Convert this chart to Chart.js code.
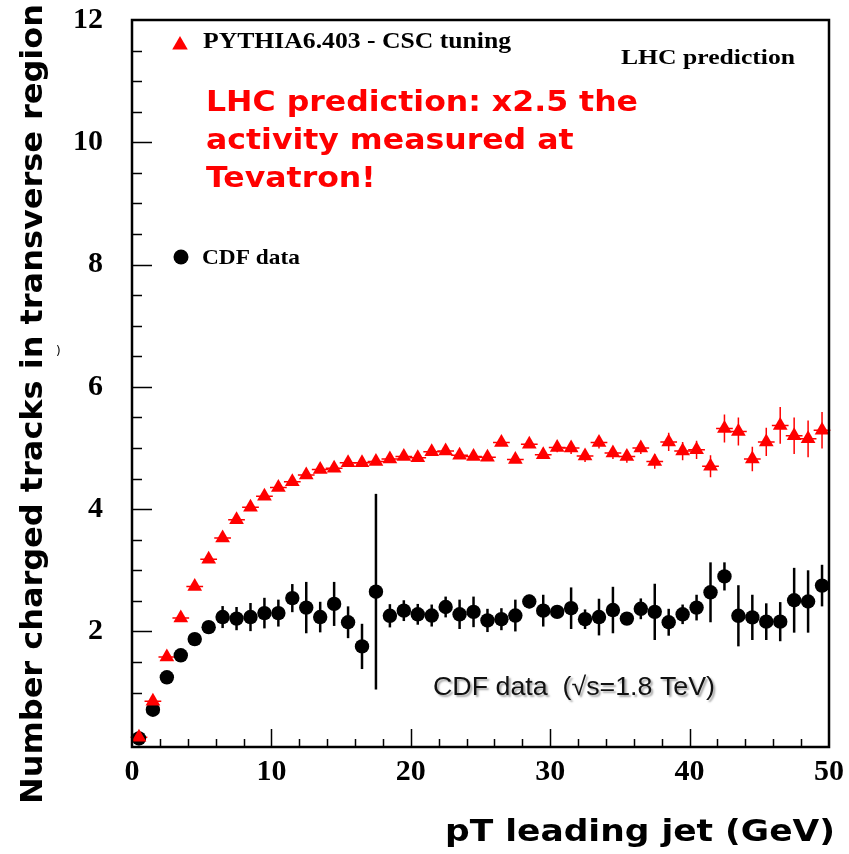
<!DOCTYPE html>
<html><head><meta charset="utf-8">
<script src="https://cdn.jsdelivr.net/npm/chart.js@4.4.1/dist/chart.umd.min.js"></script>
<style>html,body{margin:0;padding:0;background:#fff}canvas{display:block}</style>
</head><body>
<canvas id="c" width="849" height="854"></canvas>
<script>
// ---- data ----
const ptBins = [0.5,1.5,2.5,3.5,4.5,5.5,6.5,7.5,8.5,9.5,10.5,11.5,12.5,13.5,14.5,15.5,16.5,17.5,18.5,19.5,
  20.5,21.5,22.5,23.5,24.5,25.5,26.5,27.5,28.5,29.5,30.5,31.5,32.5,33.5,34.5,35.5,36.5,37.5,38.5,39.5,
  40.5,41.5,42.5,43.5,44.5,45.5,46.5,47.5,48.5,49.5];
const pythiaMean = [0.27,0.86,1.58,2.22,2.735,3.18,3.53,3.825,4.03,4.21,4.355,4.45,4.56,4.65,4.67,4.76,4.76,4.78,4.82,4.86,
  4.84,4.94,4.95,4.88,4.86,4.85,5.09,4.81,5.06,4.89,5.01,5.00,4.87,5.09,4.92,4.86,5.00,4.78,5.10,4.95,
  4.97,4.70,5.32,5.27,4.82,5.10,5.37,5.20,5.15,5.29];
const pythiaErr = [0.02,0.02,0.02,0.02,0.02,0.03,0.03,0.03,0.03,0.03,0.03,0.03,0.03,0.03,0.03,0.03,0.03,0.03,0.03,0.03,
  0.03,0.05,0.05,0.05,0.05,0.05,0.05,0.05,0.05,0.05,0.08,0.10,0.10,0.10,0.10,0.10,0.10,0.12,0.15,0.15,
  0.15,0.18,0.23,0.23,0.20,0.23,0.30,0.30,0.30,0.30];
const cdfMean = [0.25,0.72,1.25,1.61,1.875,2.07,2.235,2.21,2.235,2.30,2.30,2.545,2.39,2.235,2.45,2.15,1.755,2.65,2.256,2.34,
  2.28,2.26,2.40,2.28,2.32,2.18,2.20,2.26,2.49,2.34,2.32,2.38,2.20,2.235,2.35,2.21,2.37,2.32,2.15,2.28,
  2.39,2.64,2.90,2.256,2.23,2.16,2.16,2.51,2.49,2.75];
const cdfErr = [0.05,0.05,0.06,0.06,0.08,0.10,0.18,0.19,0.23,0.25,0.22,0.23,0.42,0.25,0.36,0.26,0.37,1.60,0.19,0.17,
  0.17,0.18,0.17,0.24,0.25,0.19,0.18,0.26,0.11,0.26,0.08,0.34,0.16,0.30,0.38,0.08,0.17,0.46,0.22,0.16,
  0.21,0.49,0.23,0.50,0.37,0.30,0.32,0.53,0.51,0.34];
const xTickLabels = [0,10,20,30,40,50];
const yTickLabels = [2,4,6,8,10,12];
const pythiaLabel = 'PYTHIA6.403 - CSC tuning';
const cdfLabel = 'CDF data';
const xTitle = 'pT leading jet (GeV)';
const yTitle = 'Number charged tracks in transverse region';
const noteLines = ['LHC prediction: x2.5 the', 'activity measured at', 'Tevatron!'];
const cornerNote = 'LHC prediction';
const cdfNote = 'CDF data  (\u221As=1.8 TeV)';

const RED = '#ff0000';

function fitText(ctx, text, x, y, font, width, color) {
  ctx.save();
  ctx.font = font;
  ctx.fillStyle = color;
  ctx.textAlign = 'left';
  ctx.textBaseline = 'alphabetic';
  const w = ctx.measureText(text).width;
  ctx.translate(x, y);
  ctx.scale(width / w, 1);
  ctx.fillText(text, 0, 0);
  ctx.restore();
}

const errPlugin = {
  id: 'errbars',
  beforeDatasetsDraw(chart) {
    const {ctx, scales: {x, y}} = chart;
    ctx.save();
    ctx.strokeStyle = RED; ctx.lineWidth = 1.5;
    ptBins.forEach((b, i) => {
      const px = x.getPixelForValue(b), py = y.getPixelForValue(pythiaMean[i]);
      ctx.beginPath();
      ctx.moveTo(px, y.getPixelForValue(pythiaMean[i] - pythiaErr[i]));
      ctx.lineTo(px, y.getPixelForValue(pythiaMean[i] + pythiaErr[i]));
      ctx.moveTo(x.getPixelForValue(b - 0.6), py);
      ctx.lineTo(x.getPixelForValue(b + 0.6), py);
      ctx.stroke();
    });
    ctx.strokeStyle = '#000'; ctx.lineWidth = 2.5;
    ptBins.forEach((b, i) => {
      const px = x.getPixelForValue(b);
      ctx.beginPath();
      ctx.moveTo(px, y.getPixelForValue(cdfMean[i] - cdfErr[i]));
      ctx.lineTo(px, y.getPixelForValue(cdfMean[i] + cdfErr[i]));
      ctx.stroke();
    });
    ctx.restore();
  }
};

const framePlugin = {
  id: 'frame',
  afterDraw(chart) {
    const {ctx, chartArea: a, scales: {x, y}} = chart;
    ctx.save();
    ctx.strokeStyle = '#000';
    ctx.lineWidth = 2.5;
    ctx.strokeRect(a.left, a.top, a.right - a.left, a.bottom - a.top);
    ctx.lineWidth = 1.5;
    ctx.beginPath();
    y.ticks.forEach(t => {
      const v = t.value;
      if (Math.abs(v * 2 - Math.round(v * 2)) > 1e-6 || v >= y.max) return;
      const len = yTickLabels.includes(v) ? 20 : 10;
      const py = Math.round(y.getPixelForValue(v)) + 0.5;
      ctx.moveTo(a.left, py); ctx.lineTo(a.left + len, py);
    });
    x.ticks.forEach(t => {
      const v = t.value;
      if (v <= x.min || v >= x.max) return;
      const len = xTickLabels.includes(v) ? 18 : 8;
      const px = Math.round(x.getPixelForValue(v)) + 0.5;
      ctx.moveTo(px, a.bottom); ctx.lineTo(px, a.bottom - len);
    });
    ctx.stroke();
    ctx.restore();

    // legend entries
    ctx.save();
    ctx.fillStyle = RED;
    Chart.helpers.drawPoint(ctx, {pointStyle: 'triangle', radius: 9, rotation: 0, borderWidth: 0}, 180, 45);
    ctx.fillStyle = '#000';
    ctx.beginPath(); ctx.arc(181, 257, 7.5, 0, Math.PI * 2); ctx.fill();
    ctx.restore();
    fitText(ctx, pythiaLabel, 203, 48, 'bold 23px "Liberation Serif"', 308, '#000');
    fitText(ctx, cdfLabel, 202, 264, 'bold 21px "Liberation Serif"', 98, '#000');
    fitText(ctx, cornerNote, 621, 64, 'bold 21px "Liberation Serif"', 174, '#000');

    // red note
    ctx.save();
    ctx.font = 'bold 29px "DejaVu Sans"';
    const s = 432 / ctx.measureText(noteLines[0]).width;
    const base = [111, 149, 187];
    noteLines.forEach((ln, i) => {
      fitText(ctx, ln, 206, base[i], 'bold 29px "DejaVu Sans"', ctx.measureText(ln).width * s, RED);
    });
    ctx.restore();

    // CDF energy note with shadow
    ctx.save();
    ctx.shadowColor = 'rgba(0,0,0,0.35)';
    ctx.shadowOffsetX = 2; ctx.shadowOffsetY = 2; ctx.shadowBlur = 2;
    fitText(ctx, cdfNote, 433, 695, '26px "Liberation Sans"', 282, '#111');
    ctx.restore();

    // axis titles
    fitText(ctx, xTitle, 445, 841, 'bold 30px "DejaVu Sans"', 390, '#000');
    ctx.save();
    ctx.translate(42, 804);
    ctx.rotate(-Math.PI / 2);
    fitText(ctx, yTitle, 0, 0, 'bold 30px "DejaVu Sans"', 800, '#000');
    ctx.restore();
    ctx.save();
    ctx.font = '12px "DejaVu Sans"'; ctx.fillStyle = '#000';
    ctx.fillText(')', 56, 355);
    ctx.restore();
  }
};

const tickFont = {family: '"Liberation Serif"', size: 30, weight: 'bold'};

new Chart(document.getElementById('c'), {
  type: 'scatter',
  data: {
    datasets: [
      {
        label: pythiaLabel,
        data: ptBins.map((b, i) => ({x: b, y: pythiaMean[i]})),
        pointStyle: 'triangle', radius: 8.5, backgroundColor: RED, borderColor: RED, borderWidth: 0
      },
      {
        label: cdfLabel,
        data: ptBins.map((b, i) => ({x: b, y: cdfMean[i]})),
        pointStyle: 'circle', radius: 7.2, backgroundColor: '#000', borderColor: '#000', borderWidth: 0
      }
    ]
  },
  options: {
    responsive: false,
    animation: false,
    devicePixelRatio: 1,
    layout: {padding: {top: 20, right: 20, left: 0, bottom: 0}},
    plugins: {legend: {display: false}, tooltip: {enabled: false}},
    scales: {
      x: {
        type: 'linear', min: 0, max: 50,
        afterFit(s) { s.height = 107; s.paddingLeft = 0; s.paddingRight = 0; s.paddingTop = 0; s.paddingBottom = 0; },
        grid: {display: false, drawTicks: false},
        border: {display: false},
        ticks: {
          stepSize: 2, autoSkip: false, maxRotation: 0, minRotation: 0, padding: 7,
          color: '#000', font: tickFont,
          callback: v => xTickLabels.includes(v) ? String(v) : ''
        }
      },
      y: {
        type: 'linear', min: 0.11, max: 12,
        afterFit(s) { s.width = 132; s.paddingLeft = 0; s.paddingRight = 0; s.paddingTop = 0; s.paddingBottom = 0; },
        grid: {display: false, drawTicks: false},
        border: {display: false},
        ticks: {
          stepSize: 0.5, autoSkip: false, padding: 29,
          color: '#000', font: tickFont,
          callback: v => yTickLabels.includes(v) ? String(v) : ''
        }
      }
    }
  },
  plugins: [errPlugin, framePlugin]
});
</script>
</body></html>
